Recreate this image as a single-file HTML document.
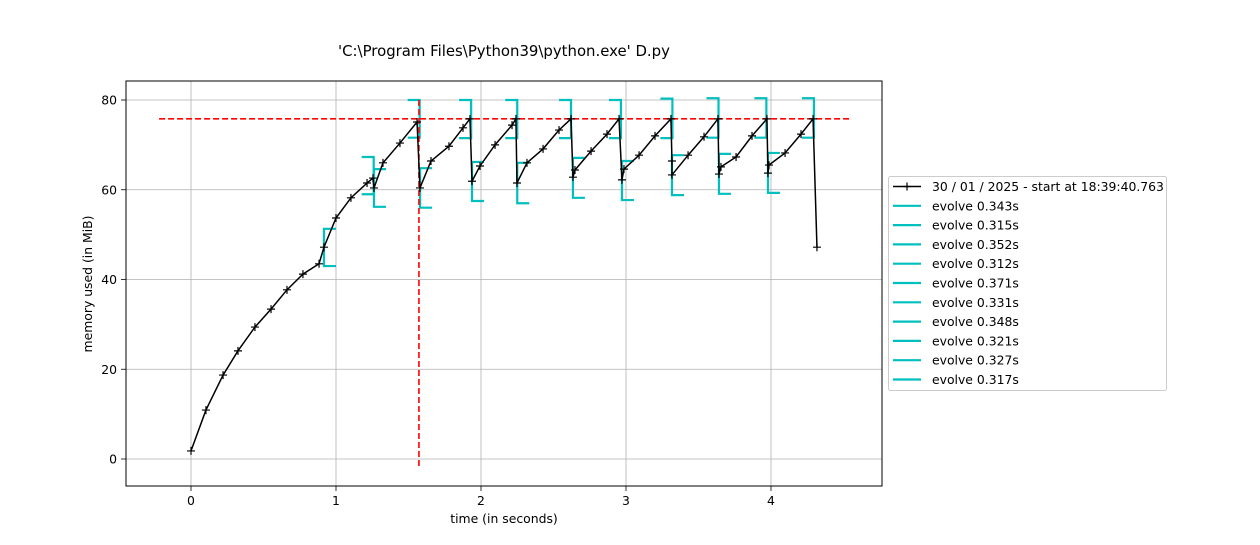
<!DOCTYPE html>
<html><head><meta charset="utf-8"><style>
body{margin:0;background:#fff;}
svg text{font-family:"DejaVu Sans","Liberation Sans",sans-serif;fill:#000;}
</style></head><body>
<svg id="chart" width="1260" height="540" xmlns="http://www.w3.org/2000/svg">
<rect width="1260" height="540" fill="#fff"/>
<g id="grid"></g>
<g id="marks"></g>
<rect x="126" y="81" width="756" height="405" fill="none" stroke="#000" stroke-width="1"/>
<g id="axes"></g>
<text x="504" y="56" font-size="14.9" text-anchor="middle">'C:\Program Files\Python39\python.exe' D.py</text>
<text x="504" y="523" font-size="12.4" text-anchor="middle">time (in seconds)</text>
<text x="92" y="284" font-size="12.4" text-anchor="middle" transform="rotate(-90 92 284)">memory used (in MiB)</text>
<g id="legend"></g>
</svg>
<script>
const memT=[0,0.103,0.221,0.324,0.441,0.552,0.662,0.772,0.883,0.917,1.0,1.103,1.214,1.255,1.262,1.324,1.441,1.559,1.579,1.655,1.779,1.876,1.924,1.938,1.993,2.097,2.214,2.241,2.248,2.317,2.428,2.538,2.621,2.634,2.648,2.759,2.869,2.952,2.972,2.986,3.09,3.2,3.31,3.317,3.317,3.428,3.538,3.634,3.641,3.655,3.759,3.869,3.972,3.979,3.986,4.097,4.207,4.29,4.317];
const memV=[1.8,10.9,18.7,24.1,29.4,33.4,37.7,41.2,43.5,47.2,53.7,58.2,61.5,62.6,60.4,66.0,70.4,75.1,60.4,66.4,69.7,73.8,75.8,61.9,65.3,70.0,74.4,75.8,61.5,66.0,69.1,73.3,75.8,62.8,64.4,68.6,72.4,75.8,62.2,64.6,67.7,72.0,75.8,66.4,63.3,67.7,71.8,75.8,63.5,65.1,67.3,72.0,75.8,63.7,65.5,68.2,72.4,75.8,47.2];
const fnStart=[0.917,1.262,1.58,1.938,2.25,2.634,2.972,3.317,3.641,3.979];
const fnDur=[0.343,0.315,0.352,0.312,0.371,0.331,0.348,0.321,0.327,0.317];
const startLo=[43.0,56.2,56.0,57.5,57.0,58.2,57.7,58.8,59.1,59.3];
const startHi=[51.3,64.6,64.8,66.2,66.0,67.1,66.4,67.7,68.0,68.2];
const endLo=[59.0,71.6,71.5,71.5,71.5,71.5,71.5,71.6,71.6,71.6];
const endHi=[67.3,80.0,80.0,80.0,80.0,80.0,80.3,80.4,80.4,80.4];
const xTicks=[0,1,2,3,4];
const yTicks=[0,20,40,60,80];
const peakMem=75.8, peakTime=1.572;
const legendLabel="30 / 01 / 2025 - start at 18:39:40.763";

const NS="http://www.w3.org/2000/svg";
const X=t=>191+t*145, Y=v=>459-v*4.4875;
function mk(tag,attrs,parent){const e=document.createElementNS(NS,tag);for(const k in attrs)e.setAttribute(k,attrs[k]);parent.appendChild(e);return e;}
const grid=document.getElementById('grid'),axes=document.getElementById('axes'),marks=document.getElementById('marks'),legend=document.getElementById('legend');
xTicks.forEach(t=>{
 const g=mk('line',{x1:X(t),x2:X(t),y1:81,y2:486,stroke:'#b0b0b0','stroke-width':0.8},grid);
 
 mk('line',{x1:X(t),x2:X(t),y1:486,y2:491,stroke:'#000','stroke-width':0.8},axes);
 const tx=mk('text',{x:X(t),y:505,'font-size':12.4,'text-anchor':'middle'},axes);tx.textContent=t;
 
});
yTicks.forEach(v=>{
 const g=mk('line',{x1:126,x2:882,y1:Y(v),y2:Y(v),stroke:'#b0b0b0','stroke-width':0.8},grid);
 
 mk('line',{x1:121,x2:126,y1:Y(v),y2:Y(v),stroke:'#000','stroke-width':0.8},axes);
 const tx=mk('text',{x:117,y:Y(v)+4.5,'font-size':12.4,'text-anchor':'end'},axes);tx.textContent=v;
 
});
fnStart.forEach((s,i)=>{
 const xs=X(s),xe=X(s+fnDur[i]),a=12;
 const p1=mk('path',{d:`M${xs+a},${Y(startHi[i])}H${xs}V${Y(startLo[i])}H${xs+a}`,fill:'none',stroke:'#00bfbf','stroke-width':2.2},marks);
 
 const p2=mk('path',{d:`M${xe-a},${Y(endHi[i])}H${xe}V${Y(endLo[i])}H${xe-a}`,fill:'none',stroke:'#00bfbf','stroke-width':2.2},marks);
 
});
const hl=mk('line',{x1:X(-0.22),x2:X(4.55),y1:Y(peakMem),y2:Y(peakMem),stroke:'#ff0000','stroke-width':1.6,'stroke-dasharray':'6,3'},marks);

const vl=mk('line',{x1:X(peakTime),x2:X(peakTime),y1:Y(80),y2:Y(-1.8),stroke:'#ff0000','stroke-width':1.6,'stroke-dasharray':'6,3'},marks);

const ml=mk('polyline',{points:memT.map((t,i)=>X(t)+','+Y(memV[i])).join(' '),fill:'none',stroke:'#000','stroke-width':1.5},marks);

memT.forEach((t,i)=>{
 const x=X(t),y=Y(memV[i]);
 const m=mk('path',{d:`M${x-4},${y}H${x+4}M${x},${y-4}V${y+4}`,stroke:'#000','stroke-width':1.2},marks);
 
});
const lb=mk('rect',{x:888.5,y:176.5,width:278,height:214,fill:'#fff',stroke:'#ccc','stroke-width':1,rx:2},legend);

const labels=[legendLabel].concat(fnDur.map(d=>'evolve '+d.toFixed(3)+'s'));
labels.forEach((l,i)=>{
 const y=186.5+i*19.3;
 const g=mk('g',{},legend);
 
 mk('line',{x1:893,x2:921,y1:y,y2:y,stroke:i?'#00bfbf':'#000','stroke-width':i?2.2:1.5},g);
 if(!i)mk('path',{d:`M903,${y}H911M907,${y-4}V${y+4}`,stroke:'#000','stroke-width':1.2},g);
 const t=mk('text',{x:932,y:y+4.5,'font-size':12.4},g);t.textContent=l;
});
</script>
</body></html>
